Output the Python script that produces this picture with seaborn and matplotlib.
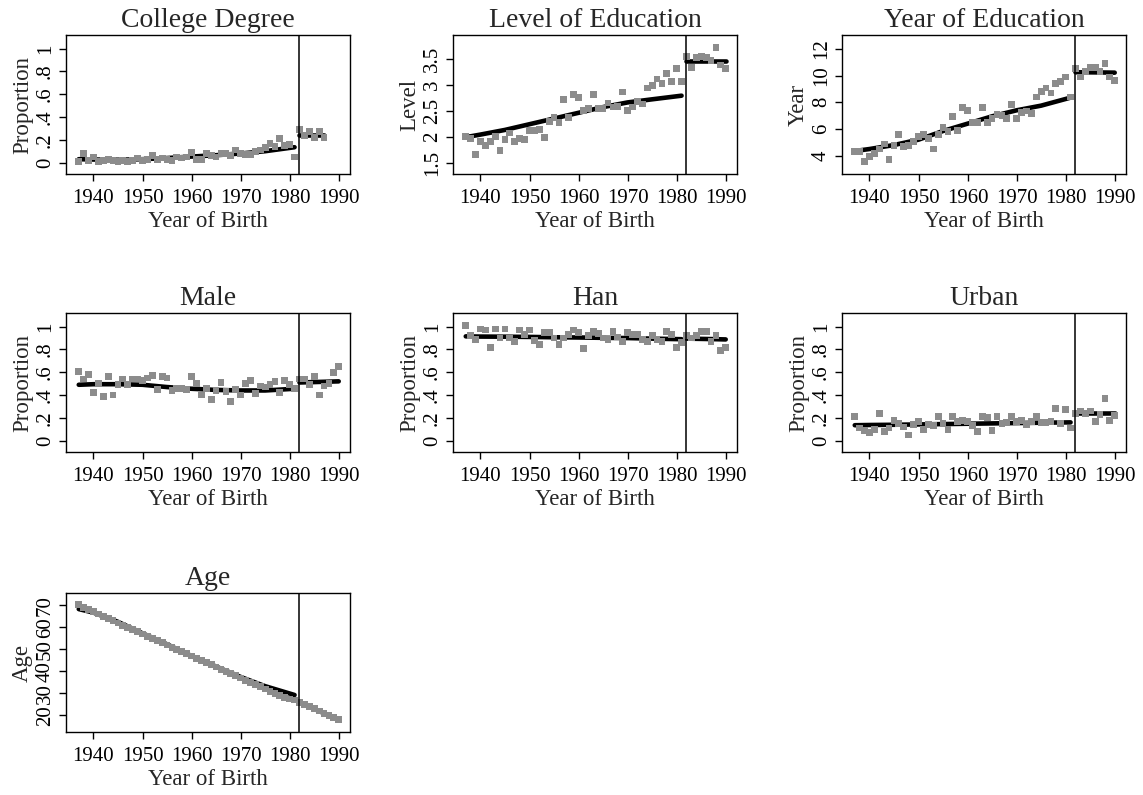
import numpy as np
import matplotlib
matplotlib.use("Agg")
import matplotlib.pyplot as plt
import seaborn as sns

sns.set_style("white")
plt.rcParams['font.family'] = ['Liberation Serif', 'DejaVu Serif']

# años de nacimiento
years = np.arange(1937, 1991)
college_years = np.arange(1937, 1988)

# puntos (medias por cohorte)
college = [0.01, 0.08, 0.02, 0.05, 0.01, 0.02, 0.03, 0.02, 0.01, 0.02,
           0.01, 0.02, 0.04, 0.02, 0.03, 0.06, 0.03, 0.04, 0.03, 0.02,
           0.05, 0.04, 0.05, 0.09, 0.03, 0.03, 0.08, 0.06, 0.05, 0.08,
           0.08, 0.06, 0.11, 0.08, 0.07, 0.07, 0.10, 0.11, 0.13, 0.17,
           0.14, 0.21, 0.15, 0.16, 0.05,
           0.29, 0.24, 0.27, 0.22, 0.27, 0.22]
level = [2.01, 1.97, 1.66, 1.91, 1.83, 1.90, 2.01, 1.73, 1.95, 2.07,
         1.90, 1.97, 1.95, 2.12, 2.12, 2.14, 1.99, 2.29, 2.37, 2.28,
         2.71, 2.37, 2.81, 2.76, 2.50, 2.55, 2.81, 2.54, 2.54, 2.65,
         2.57, 2.58, 2.86, 2.51, 2.57, 2.68, 2.63, 2.94, 2.99, 3.11,
         3.03, 3.22, 3.07, 3.31, 3.06,
         3.55, 3.34, 3.53, 3.55, 3.52, 3.47, 3.72, 3.38, 3.31]
year_edu = [4.30, 4.30, 3.55, 3.93, 4.17, 4.50, 4.87, 3.73, 4.75, 5.59,
            4.67, 4.75, 5.04, 5.42, 5.59, 5.29, 4.50, 5.59, 6.09, 5.84,
            6.91, 5.91, 7.60, 7.40, 6.48, 6.48, 7.60, 6.48, 6.78, 7.11,
            7.03, 6.78, 7.85, 6.78, 7.23, 7.35, 7.16, 8.40, 8.82, 9.07,
            8.70, 9.39, 9.57, 9.89, 8.40,
            10.51, 9.89, 10.31, 10.63, 10.63, 10.31, 10.88, 9.89, 9.64]
male = [0.61, 0.54, 0.58, 0.42, 0.50, 0.39, 0.56, 0.40, 0.49, 0.54,
        0.49, 0.54, 0.54, 0.53, 0.55, 0.57, 0.45, 0.56, 0.55, 0.44,
        0.46, 0.46, 0.45, 0.56, 0.50, 0.40, 0.46, 0.36, 0.44, 0.51,
        0.43, 0.34, 0.45, 0.40, 0.50, 0.53, 0.41, 0.48, 0.47, 0.49,
        0.52, 0.42, 0.53, 0.49, 0.46,
        0.54, 0.54, 0.49, 0.56, 0.40, 0.48, 0.50, 0.60, 0.65]
han = [1.01, 0.92, 0.89, 0.98, 0.97, 0.82, 0.98, 0.90, 0.98, 0.90,
       0.87, 0.97, 0.93, 0.97, 0.88, 0.84, 0.95, 0.95, 0.90, 0.84,
       0.90, 0.93, 0.97, 0.95, 0.81, 0.92, 0.96, 0.94, 0.90, 0.89,
       0.96, 0.91, 0.87, 0.95, 0.93, 0.93, 0.89, 0.87, 0.92, 0.89,
       0.87, 0.96, 0.93, 0.82, 0.86,
       0.92, 0.90, 0.92, 0.96, 0.96, 0.87, 0.92, 0.79, 0.82]
urban = [0.21, 0.11, 0.09, 0.07, 0.10, 0.24, 0.08, 0.11, 0.18, 0.15,
         0.12, 0.05, 0.14, 0.17, 0.10, 0.14, 0.13, 0.21, 0.15, 0.10,
         0.21, 0.17, 0.18, 0.17, 0.13, 0.08, 0.21, 0.20, 0.09, 0.21,
         0.15, 0.16, 0.21, 0.17, 0.18, 0.14, 0.17, 0.21, 0.16, 0.16,
         0.17, 0.28, 0.15, 0.27, 0.11,
         0.24, 0.26, 0.24, 0.26, 0.17, 0.23, 0.37, 0.18, 0.22]
age = [70.3, 69.2, 68.2, 67.2, 66.1, 65.1, 64.1, 63.0, 62.0, 61.0,
       60.0, 59.0, 58.0, 57.0, 56.0, 55.0, 54.0, 53.0, 52.0, 51.0,
       50.0, 49.0, 48.0, 47.0, 46.0, 45.0, 44.0, 43.0, 42.0, 41.0,
       40.0, 39.0, 38.0, 37.0, 36.0, 35.0, 34.0, 33.0, 32.0, 31.0,
       30.0, 29.0, 28.0, 27.5, 27.0,
       26.0, 25.0, 24.0, 23.0, 22.0, 21.0, 20.0, 19.0, 18.0]

# curvas ajustadas
fit_pre_x = [1937, 1940, 1945, 1950, 1955, 1960, 1965, 1970, 1975, 1981]
fit_post_x = [1982, 1986, 1990]
college_post_x = [1982, 1984.5, 1987]

college_fit_pre = [0.03, 0.027, 0.025, 0.03, 0.04, 0.053, 0.065, 0.08, 0.10, 0.135]
college_fit_post = [0.245, 0.245, 0.245]
level_fit_pre = [1.99, 2.04, 2.13, 2.24, 2.35, 2.46, 2.57, 2.66, 2.72, 2.79]
level_fit_post = [3.45, 3.45, 3.45]
year_fit_pre = [4.35, 4.5, 4.8, 5.2, 5.85, 6.4, 6.95, 7.4, 7.75, 8.35]
year_fit_post = [10.25, 10.24, 10.22]
male_fit_pre = [0.49, 0.495, 0.495, 0.49, 0.47, 0.455, 0.445, 0.44, 0.44, 0.455]
male_fit_post = [0.51, 0.515, 0.52]
han_fit_pre = [0.915, 0.913, 0.912, 0.91, 0.907, 0.905, 0.902, 0.90, 0.895, 0.89]
han_fit_post = [0.895, 0.892, 0.888]
urban_fit_pre = [0.135, 0.137, 0.139, 0.142, 0.145, 0.148, 0.151, 0.154, 0.157, 0.16]
urban_fit_post = [0.24, 0.24, 0.24]
age_fit_pre = [68.3, 66.7, 62.5, 57.3, 52.3, 47.0, 42.2, 37.5, 33.3, 29.3]
age_fit_post = [26.0, 22.0, 18.0]

prop_ticks = [0, 0.2, 0.4, 0.6, 0.8, 1]
prop_labels = ['0', '.2', '.4', '.6', '.8', '1']

panels = [
    dict(title='College Degree', ylabel='Proportion', x=college_years, y=college,
         fpre=college_fit_pre, fpost=college_fit_post, fpost_x=college_post_x,
         yt=prop_ticks, ytl=prop_labels, ylim=(-0.1, 1.12)),
    dict(title='Level of Education', ylabel='Level', x=years, y=level,
         fpre=level_fit_pre, fpost=level_fit_post, fpost_x=fit_post_x,
         yt=[1.5, 2, 2.5, 3, 3.5], ytl=['1.5', '2', '2.5', '3', '3.5'], ylim=(1.28, 3.96)),
    dict(title='Year of Education', ylabel='Year', x=years, y=year_edu,
         fpre=year_fit_pre, fpost=year_fit_post, fpost_x=fit_post_x,
         yt=[4, 6, 8, 10, 12], ytl=['4', '6', '8', '10', '12'], ylim=(2.63, 13.04)),
    dict(title='Male', ylabel='Proportion', x=years, y=male,
         fpre=male_fit_pre, fpost=male_fit_post, fpost_x=fit_post_x,
         yt=prop_ticks, ytl=prop_labels, ylim=(-0.1, 1.12)),
    dict(title='Han', ylabel='Proportion', x=years, y=han,
         fpre=han_fit_pre, fpost=han_fit_post, fpost_x=fit_post_x,
         yt=prop_ticks, ytl=prop_labels, ylim=(-0.1, 1.12)),
    dict(title='Urban', ylabel='Proportion', x=years, y=urban,
         fpre=urban_fit_pre, fpost=urban_fit_post, fpost_x=fit_post_x,
         yt=prop_ticks, ytl=prop_labels, ylim=(-0.1, 1.12)),
    dict(title='Age', ylabel='Age', x=years, y=age,
         fpre=age_fit_pre, fpost=age_fit_post, fpost_x=fit_post_x,
         yt=[20, 30, 40, 50, 60, 70], ytl=['20', '30', '40', '50', '60', '70'], ylim=(12.5, 75.6)),
]

W, H = 1143, 795
fig = plt.figure(figsize=(W / 100, H / 100), dpi=100)
fig.patch.set_facecolor('white')

col_left = [66, 453, 842]
row_top = [35, 313, 593]
aw, ah = 284, 139

for i, p in enumerate(panels):
    r, c = divmod(i, 3)
    ax = fig.add_axes([col_left[c] / W, 1 - (row_top[r] + ah) / H, aw / W, ah / H])

    sns.lineplot(x=fit_pre_x, y=p['fpre'], color='black', linewidth=3.3, ax=ax, zorder=2)
    sns.lineplot(x=p['fpost_x'], y=p['fpost'], color='black', linewidth=3.3, ax=ax, zorder=2)
    sns.scatterplot(x=p['x'], y=p['y'], marker='s', s=24, color='#8c8c8c',
                    edgecolor='none', linewidth=0, ax=ax, zorder=3)
    ax.axvline(1982, color='black', linewidth=1.1, zorder=4)

    ax.set_xlim(1934.4, 1992.3)
    ax.set_ylim(*p['ylim'])
    ax.set_xticks([1940, 1950, 1960, 1970, 1980, 1990])
    ax.set_yticks(p['yt'])
    ax.set_yticklabels(p['ytl'], rotation=90, va='center')
    ax.tick_params(axis='both', which='major', direction='out', length=5, width=1,
                   color='black', labelsize=15, labelcolor='black',
                   bottom=True, left=True)
    ax.tick_params(axis='x', pad=6)
    ax.tick_params(axis='y', pad=3)
    for s in ax.spines.values():
        s.set_color('black')
        s.set_linewidth(1)
    ax.set_title(p['title'], fontsize=20, pad=6)
    ax.set_xlabel('Year of Birth', fontsize=16.5, labelpad=2)
    ax.set_ylabel(p['ylabel'], fontsize=16.5, labelpad=2)
    ax.grid(False)

plt.savefig('out.png', dpi=100)
